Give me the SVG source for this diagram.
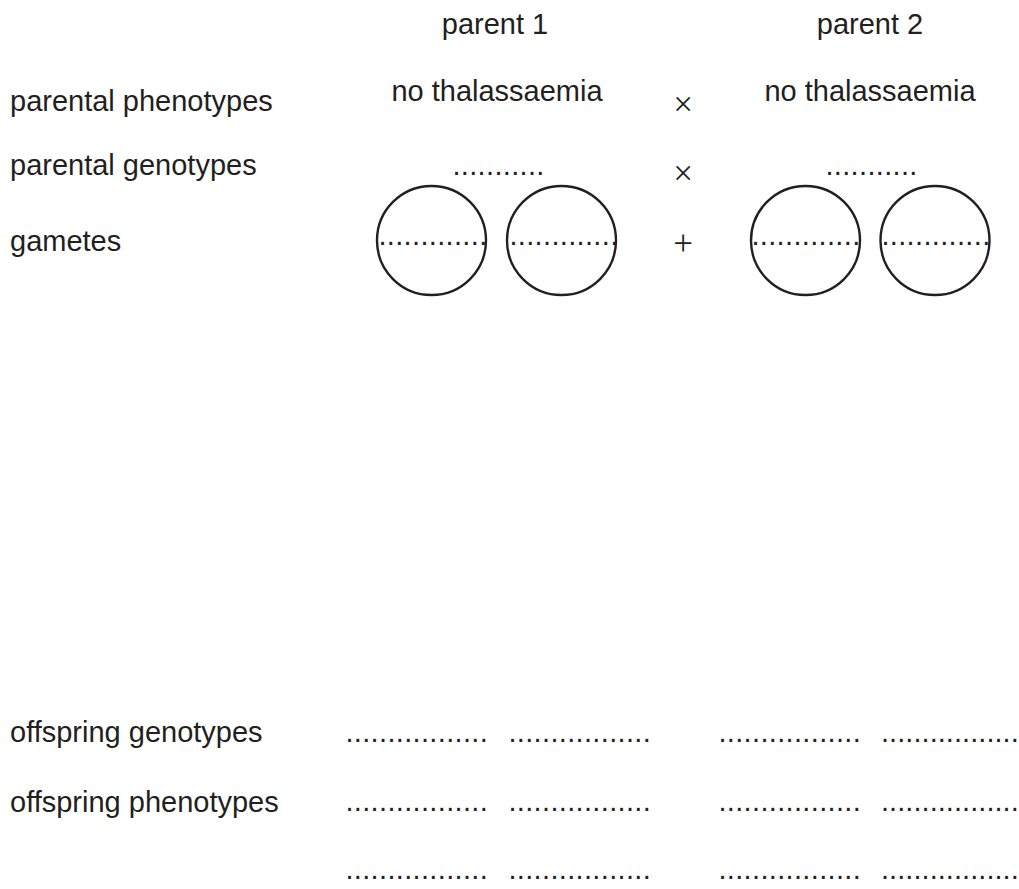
<svg xmlns="http://www.w3.org/2000/svg" width="1019" height="889" viewBox="0 0 1019 889">
<style>
  text { font-family: "Liberation Sans", Arial, sans-serif; font-size: 29px; fill: #231f20; }
  .mid { text-anchor: middle; }
  .dots { letter-spacing: 0.34px; }
  .dots-edge { letter-spacing: 0.05px; }
  .sym { font-family: "Liberation Serif", "Times New Roman", serif; font-size: 35px; text-anchor: middle; }
  .gamete { fill: none; stroke: #231f20; stroke-width: 2.4; }
</style>
<rect width="1019" height="889" fill="#ffffff"/>

<g id="row-labels">
  <text x="10" y="111">parental phenotypes</text>
  <text x="10" y="175">parental genotypes</text>
  <text x="10" y="251">gametes</text>
  <text x="10" y="742">offspring genotypes</text>
  <text x="10" y="812">offspring phenotypes</text>
</g>

<g id="parent1">
  <text class="mid" x="495" y="34">parent 1</text>
  <text class="mid" x="497" y="101">no thalassaemia</text>
  <text class="dots" x="452.4" y="175">...........</text>
</g>

<g id="parent2">
  <text class="mid" x="870" y="34">parent 2</text>
  <text class="mid" x="870" y="101">no thalassaemia</text>
  <text class="dots" x="825.4" y="175">...........</text>
</g>

<g id="cross-symbols">
  <text class="sym" x="683" y="115.5">×</text>
  <text class="sym" x="683" y="184.5">×</text>
  <text class="sym" x="683" y="254.5">+</text>
</g>

<g id="gamete-1a">
  <circle class="gamete" cx="431.5" cy="240.5" r="54.5"/>
  <text class="dots" x="378.4" y="245">.............</text>
</g>
<g id="gamete-1b">
  <circle class="gamete" cx="561.5" cy="240.5" r="54.5"/>
  <text class="dots" x="509.4" y="245">.............</text>
</g>
<g id="gamete-2a">
  <circle class="gamete" cx="805.5" cy="240.5" r="54.5"/>
  <text class="dots" x="751.4" y="245">.............</text>
</g>
<g id="gamete-2b">
  <circle class="gamete" cx="935" cy="240.5" r="54.5"/>
  <text class="dots" x="881.4" y="245">.............</text>
</g>

<g id="offspring-genotypes">
  <text class="dots" x="345.4" y="742">.................</text>
  <text class="dots" x="508.4" y="742">.................</text>
  <text class="dots" x="718.4" y="742">.................</text>
  <text class="dots-edge" x="881" y="742">.................</text>
</g>
<g id="offspring-phenotypes">
  <text class="dots" x="345.4" y="811">.................</text>
  <text class="dots" x="508.4" y="811">.................</text>
  <text class="dots" x="718.4" y="811">.................</text>
  <text class="dots-edge" x="881" y="811">.................</text>
</g>
<g id="offspring-extra">
  <text class="dots" x="345.4" y="879">.................</text>
  <text class="dots" x="508.4" y="879">.................</text>
  <text class="dots" x="718.4" y="879">.................</text>
  <text class="dots-edge" x="881" y="879">.................</text>
</g>
</svg>
